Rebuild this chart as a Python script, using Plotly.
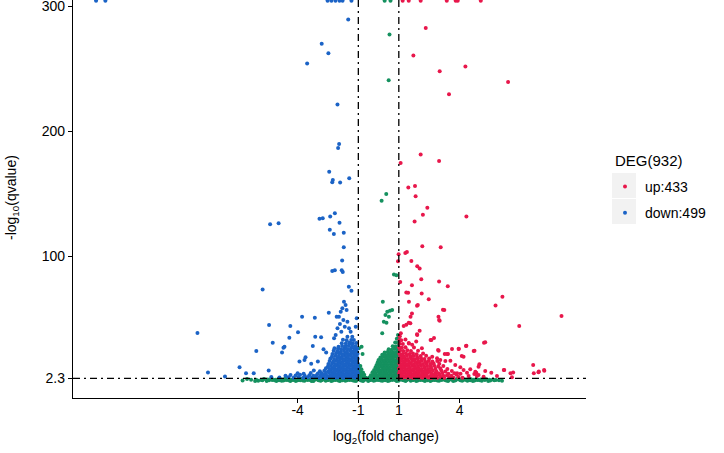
import plotly.graph_objects as go

# ---------------- data ----------------
fc_cut = 1.0          # |log2 FC| threshold
q_cut = 2.3           # -log10(q) threshold
x_ticks = [-4, -1, 1, 4]
y_ticks = [2.3, 100, 200, 300]
y_tick_text = ["2.3", "100", "200", "300"]
legend_up = "up:433"
legend_down = "down:499"
legend_title = "DEG(932)"

up_sparse = [
    (1.19, 304.5), (1.49, 304.5), (2.08, 304.5), (3.37, 304.5), (3.81, 304.5), (3.91, 304.5), (5.05, 304.5),
    (2.33, 282.7), (1.72, 260.7), (3.02, 248.0), (4.29, 251.9), (6.40, 239.4), (3.48, 229.6), (2.08, 181.5),
    (2.99, 176.2), (1.09, 174.7), (1.47, 155.0), (1.80, 156.3), (1.83, 148.0), (2.41, 138.8), (2.19, 133.2),
    (1.78, 127.9), (4.34, 131.9), (2.16, 108.0), (3.07, 107.2), (0.99, 101.6), (1.32, 102.6), (1.40, 103.4),
    (0.96, 96.0), (1.62, 96.3), (1.91, 92.0), (2.03, 90.2), (2.11, 81.7), (1.07, 79.5), (1.65, 76.9),
    (2.99, 79.8), (3.42, 76.1), (2.13, 70.3), (1.37, 71.1), (1.46, 70.9), (2.48, 65.7), (1.50, 63.6), (1.90, 60.4),
    (1.94, 61.0), (6.12, 67.6), (5.78, 60.7), (3.18, 57.2), (3.25, 57.0), (1.65, 54.3), (1.58, 51.6), (2.96, 51.6),
    (2.99, 49.0), (3.02, 48.5), (9.04, 52.2), (1.57, 46.4), (1.37, 45.3), (1.24, 44.2), (1.49, 46.9), (6.95, 44.2),
    (2.03, 40.5), (1.90, 37.6), (1.91, 37.0), (1.10, 38.4), (1.33, 33.5), (2.74, 34.7), (2.57, 33.1), (2.61, 33.1),
    (1.86, 31.9), (1.49, 30.6), (1.66, 29.2), (5.21, 30.9), (5.27, 31.2), (4.34, 28.5), (4.32, 28.3), (3.96, 26.1),
    (4.70, 24.3), (4.74, 24.5), (2.94, 25.1), (2.97, 24.5), (2.14, 26.5), (3.63, 25.8), (3.96, 25.8), (4.11, 20.3),
    (4.20, 19.7), (3.27, 21.9), (3.43, 21.9), (3.38, 21.8), (2.65, 19.7), (2.89, 18.4), (3.05, 17.0), (3.30, 16.2),
    (3.55, 16.5), (3.79, 13.0), (4.04, 11.2), (4.20, 9.0), (3.88, 6.4), (4.37, 6.9), (4.53, 9.6), (4.78, 7.7),
    (4.94, 11.7), (4.98, 13.6), (5.19, 3.7), (4.86, 4.2), (4.45, 4.2), (7.64, 13.1), (8.18, 9.1), (7.92, 7.8),
    (7.67, 6.5), (7.90, 7.2), (8.19, 8.5), (6.19, 9.1), (6.21, 9.0), (6.52, 6.5), (6.65, 7.0), (5.57, 6.9),
    (5.27, 8.2), (4.83, 6.9), (4.73, 5.8), (4.94, 5.0), (5.85, 4.2), (6.59, 3.2),
]

up_core = [
    (1.03, 3.1), (1.18, 2.8), (1.31, 3.4), (1.45, 2.9), (1.6, 3.3), (1.72, 2.7), (1.88, 3.5), (2.01, 3.0),
    (2.17, 2.8), (2.3, 3.4), (2.46, 3.1), (2.6, 2.7), (2.77, 3.3), (2.9, 2.9), (3.08, 3.5), (3.25, 2.8),
    (3.5, 3.2), (3.7, 2.9), (3.95, 3.4), (4.15, 2.8),
    (1.07, 4.7), (1.22, 4.3), (1.38, 5.0), (1.52, 4.5), (1.66, 4.9), (1.8, 4.2), (1.95, 4.8), (2.1, 4.4),
    (2.24, 5.1), (2.38, 4.6), (2.55, 4.3), (2.7, 4.9), (2.85, 4.5), (3.02, 5.0), (3.2, 4.4), (3.38, 4.8),
    (3.6, 4.5), (3.85, 5.2),
    (1.02, 6.4), (1.15, 6.0), (1.29, 6.6), (1.43, 6.1), (1.58, 6.5), (1.73, 5.9), (1.86, 6.3), (2.0, 6.7),
    (2.15, 6.0), (2.31, 6.4), (2.44, 6.8), (2.62, 6.1), (2.8, 6.5), (2.98, 6.2), (3.15, 6.6), (3.45, 6.0),
    (3.75, 6.4), (4.05, 6.1),
    (1.05, 8.1), (1.2, 7.8), (1.34, 8.4), (1.49, 7.9), (1.63, 8.3), (1.77, 7.7), (1.93, 8.2), (2.07, 8.5),
    (2.22, 7.9), (2.36, 8.3), (2.52, 7.8), (2.68, 8.4), (2.86, 8.0), (3.1, 8.6), (3.3, 7.9), (3.62, 8.2),
    (1.01, 10.2), (1.13, 9.8), (1.27, 10.4), (1.41, 9.9), (1.55, 10.3), (1.7, 9.7), (1.84, 10.1), (1.98, 10.5),
    (2.13, 9.9), (2.29, 10.2), (2.45, 9.8), (2.6, 10.4), (2.81, 10.0), (3.05, 10.3), (3.4, 9.9),
    (1.08, 12.1), (1.23, 11.8), (1.36, 12.4), (1.5, 11.9), (1.65, 12.3), (1.79, 11.7), (1.94, 12.2), (2.09, 12.5),
    (2.25, 11.9), (2.4, 12.3), (2.58, 11.8), (2.75, 12.4), (2.95, 12.0), (3.2, 12.2),
    (1.03, 14.1), (1.17, 13.8), (1.31, 14.4), (1.46, 13.9), (1.6, 14.3), (1.75, 13.7), (1.9, 14.2), (2.04, 14.5),
    (2.2, 13.9), (2.37, 14.3), (2.55, 13.8), (2.72, 14.2), (3.0, 14.0),
    (1.06, 16.1), (1.21, 15.8), (1.35, 16.4), (1.5, 15.9), (1.66, 16.3), (1.81, 15.7), (1.96, 16.2), (2.12, 16.5),
    (2.3, 15.9), (2.48, 16.3), (2.66, 15.8), (2.9, 16.2),
    (1.02, 18.1), (1.16, 17.8), (1.3, 18.4), (1.45, 17.9), (1.61, 18.3), (1.77, 17.7), (1.93, 18.2), (2.1, 18.5),
    (2.27, 17.9), (2.5, 18.2),
    (1.08, 20.1), (1.24, 19.8), (1.4, 20.4), (1.57, 19.9), (1.72, 20.3), (1.9, 19.7), (2.08, 20.2), (2.35, 20.5),
    (1.03, 22.1), (1.19, 21.8), (1.35, 22.4), (1.53, 21.9), (1.7, 22.3), (1.88, 21.7), (2.2, 22.2),
    (1.06, 24.6), (1.22, 24.2), (1.42, 24.8), (1.6, 24.3), (1.95, 24.5),
    (1.02, 27.1), (1.15, 26.8), (1.33, 27.3), (1.75, 27.0),
    (1.04, 30.1), (1.2, 29.8), (1.5, 30.3), (1.03, 33.0), (1.12, 32.8), (1.05, 36.0),
]

down_sparse = [
    (-13.96, 304.5), (-13.5, 304.5), (-2.52, 304.5), (-2.33, 304.5), (-2.13, 304.5), (-1.93, 304.5),
    (-1.78, 304.5), (-1.34, 304.5),
    (-1.50, 289.4), (-2.81, 270.0), (-2.48, 262.5), (-3.53, 254.3), (-2.03, 221.4), (-1.95, 189.8),
    (-2.0, 186.6), (-2.44, 167.7), (-2.26, 161.0), (-2.29, 159.2), (-1.90, 159.0), (-1.45, 162.4),
    (-5.36, 125.7), (-4.94, 126.5), (-2.92, 130.0), (-2.76, 130.5), (-2.39, 131.9), (-2.16, 134.5),
    (-1.93, 126.8), (-2.41, 121.3), (-2.21, 117.8), (-1.72, 118.9), (-1.72, 107.2), (-1.80, 96.6),
    (-2.29, 88.3), (-2.16, 88.8), (-1.82, 88.8), (-1.77, 87.5), (-5.73, 73.5), (-1.47, 75.6), (-1.34, 72.4),
    (-8.95, 38.6), (-5.41, 45.0), (-4.36, 44.2), (-3.78, 51.6), (-3.15, 50.8), (-2.46, 54.8), (-3.98, 39.2),
    (-4.41, 34.9), (-5.23, 30.9), (-4.70, 26.9), (-4.77, 23.0), (-6.04, 24.3), (-6.87, 11.3), (-8.43, 7.0),
    (-7.59, 3.8), (-6.55, 6.5), (-6.17, 6.5), (-5.43, 8.6), (-4.65, 27.7), (-3.25, 28.3), (-3.13, 35.7),
    (-2.84, 35.2), (-2.72, 25.7), (-2.59, 23.0), (-3.61, 19.3), (-3.91, 15.8), (-3.66, 17.1), (-3.33, 14.0),
    (-3.0, 15.8),
    (-1.71, 63.7), (-1.63, 61.0), (-1.79, 58.4), (-1.58, 57.0), (-1.87, 55.7), (-1.96, 51.7), (-2.07, 51.7),
    (-1.74, 49.0), (-1.54, 47.7), (-1.91, 45.8), (-1.67, 43.7), (-1.46, 42.4), (-2.03, 42.4), (-1.84, 39.7),
    (-1.38, 39.7), (-2.12, 37.0), (-1.54, 35.7), (-1.22, 33.0), (-2.2, 34.4), (-1.08, 50.4), (-1.13, 43.7),
    (-1.38, 30.4), (-1.3, 35.7),
]

down_core = [
    (-1.03, 3.1), (-1.17, 2.8), (-1.31, 3.4), (-1.45, 2.9), (-1.6, 3.3), (-1.74, 2.7), (-1.88, 3.5), (-2.02, 3.0),
    (-2.17, 2.8), (-2.31, 3.4), (-2.46, 3.1), (-2.6, 2.7), (-2.78, 3.3), (-2.95, 2.9), (-3.12, 3.5), (-3.3, 2.8),
    (-3.5, 3.2), (-3.72, 2.9), (-3.95, 3.4), (-4.2, 2.8), (-4.45, 3.3), (-4.9, 3.0), (-5.3, 3.5),
    (-1.08, 4.7), (-1.22, 4.3), (-1.36, 5.0), (-1.5, 4.5), (-1.65, 4.9), (-1.79, 4.2), (-1.94, 4.8), (-2.08, 4.4),
    (-2.23, 5.1), (-2.38, 4.6), (-2.53, 4.3), (-2.7, 4.9), (-2.87, 4.5), (-3.05, 5.0), (-3.22, 4.4), (-3.42, 4.8),
    (-3.65, 4.5), (-3.88, 5.2), (-4.1, 4.6), (-4.35, 5.0), (-4.6, 4.4),
    (-1.02, 6.4), (-1.15, 6.0), (-1.29, 6.6), (-1.43, 6.1), (-1.57, 6.5), (-1.71, 5.9), (-1.85, 6.3), (-2.0, 6.7),
    (-2.14, 6.0), (-2.29, 6.4), (-2.45, 6.8), (-2.62, 6.1), (-2.8, 6.5), (-3.0, 6.2), (-3.35, 6.6), (-3.7, 6.0),
    (-4.0, 6.4),
    (-1.06, 8.1), (-1.2, 7.8), (-1.34, 8.4), (-1.48, 7.9), (-1.62, 8.3), (-1.77, 7.7), (-1.91, 8.2), (-2.05, 8.5),
    (-2.2, 7.9), (-2.35, 8.3), (-2.5, 7.8), (-2.68, 8.4), (-2.9, 8.0), (-3.2, 8.6),
    (-1.01, 10.2), (-1.13, 9.8), (-1.27, 10.4), (-1.41, 9.9), (-1.55, 10.3), (-1.69, 9.7), (-1.83, 10.1),
    (-1.97, 10.5), (-2.12, 9.9), (-2.27, 10.2), (-2.42, 9.8), (-2.6, 10.4),
    (-1.05, 12.1), (-1.19, 11.8), (-1.33, 12.4), (-1.47, 11.9), (-1.61, 12.3), (-1.75, 11.7), (-1.9, 12.2),
    (-2.04, 12.5), (-2.19, 11.9), (-2.35, 12.3), (-2.5, 11.8),
    (-1.02, 14.1), (-1.15, 13.8), (-1.29, 14.4), (-1.43, 13.9), (-1.57, 14.3), (-1.71, 13.7), (-1.86, 14.2),
    (-2.0, 14.5), (-2.15, 13.9), (-2.3, 14.3), (-2.48, 13.8),
    (-1.07, 16.1), (-1.21, 15.8), (-1.35, 16.4), (-1.5, 15.9), (-1.64, 16.3), (-1.78, 15.7), (-1.93, 16.2),
    (-2.08, 16.5), (-2.24, 15.9), (-2.42, 16.3),
    (-1.03, 18.1), (-1.17, 17.8), (-1.31, 18.4), (-1.45, 17.9), (-1.59, 18.3), (-1.73, 17.7), (-1.88, 18.2),
    (-2.03, 18.5), (-2.2, 17.9), (-2.38, 18.2),
    (-1.08, 20.1), (-1.22, 19.8), (-1.37, 20.4), (-1.52, 19.9), (-1.66, 20.3), (-1.81, 19.7), (-1.96, 20.2),
    (-2.12, 20.5), (-2.3, 19.9),
    (-1.04, 22.1), (-1.18, 21.8), (-1.33, 22.4), (-1.48, 21.9), (-1.63, 22.3), (-1.78, 21.7), (-1.94, 22.2),
    (-2.1, 22.5), (-2.28, 21.9),
    (-1.1, 24.1), (-1.25, 23.8), (-1.4, 24.4), (-1.56, 23.9), (-1.71, 24.3), (-1.87, 23.7), (-2.04, 24.2),
    (-2.22, 24.5),
    (-1.05, 26.1), (-1.2, 25.8), (-1.36, 26.4), (-1.52, 25.9), (-1.68, 26.3), (-1.85, 25.7), (-2.0, 26.2),
    (-2.18, 26.5),
    (-1.14, 28.1), (-1.3, 27.8), (-1.47, 28.4), (-1.63, 27.9), (-1.8, 28.3), (-1.98, 27.7),
    (-1.1, 30.6), (-1.27, 30.3), (-1.45, 30.8), (-1.62, 30.2), (-1.82, 30.5),
    (-1.35, 33.1), (-1.58, 32.8), (-1.76, 33.3),
]

ns_sparse = [
    (0.30, 304.5), (0.59, 304.5), (0.54, 277.4), (0.50, 240.8), (0.38, 149.8), (0.15, 144.5), (0.76, 85.4),
    (0.88, 84.9), (0.21, 63.6), (0.43, 55.7), (0.56, 56.5), (0.67, 57.0), (0.34, 53.0), (0.51, 51.7),
    (0.26, 47.7), (0.39, 46.9), (0.18, 38.4), (-0.84, 27.7), (-0.79, 21.9), (-0.97, 26.5),
]

ns_hump = [
    (-0.45, 3.0), (-0.32, 3.4), (-0.18, 2.9), (-0.04, 3.3), (0.1, 2.8), (0.24, 3.5), (0.38, 3.0), (0.52, 3.3),
    (0.66, 2.9), (0.8, 3.4), (0.94, 3.1),
    (-0.38, 4.8), (-0.24, 5.3), (-0.1, 4.9), (0.04, 5.4), (0.18, 5.0), (0.32, 5.2), (0.46, 4.8), (0.6, 5.4),
    (0.74, 5.0), (0.88, 5.3), (0.98, 4.9),
    (-0.3, 7.2), (-0.16, 6.9), (-0.02, 7.4), (0.12, 7.0), (0.26, 7.3), (0.4, 6.8), (0.54, 7.2), (0.68, 7.5),
    (0.82, 7.0), (0.96, 7.3),
    (-0.22, 9.1), (-0.08, 9.4), (0.06, 8.9), (0.2, 9.3), (0.34, 9.0), (0.48, 9.5), (0.62, 8.9), (0.76, 9.2),
    (0.9, 9.4),
    (-0.15, 11.2), (0.0, 10.9), (0.14, 11.4), (0.28, 11.0), (0.42, 11.3), (0.56, 10.8), (0.7, 11.2), (0.84, 11.5),
    (0.97, 11.0),
    (-0.1, 13.1), (0.05, 13.4), (0.19, 12.9), (0.33, 13.3), (0.47, 13.0), (0.61, 13.5), (0.75, 12.9), (0.89, 13.2),
    (-0.04, 15.2), (0.1, 14.9), (0.24, 15.3), (0.38, 15.0), (0.52, 15.4), (0.66, 14.8), (0.8, 15.2), (0.94, 15.5),
    (0.0, 17.0), (0.15, 17.3), (0.29, 16.9), (0.43, 17.4), (0.57, 17.0), (0.71, 17.3), (0.85, 16.8), (0.98, 17.2),
    (0.09, 19.1), (0.22, 19.4), (0.36, 18.9), (0.5, 19.3), (0.64, 19.0), (0.78, 19.5), (0.92, 19.1),
    (0.18, 21.2), (0.32, 20.9), (0.46, 21.3), (0.6, 21.0), (0.74, 21.4), (0.88, 20.8), (0.99, 21.2),
    (0.3, 23.1), (0.44, 23.4), (0.58, 22.9), (0.72, 23.3), (0.86, 23.0), (0.96, 23.5),
    (0.5, 25.6), (0.65, 25.3), (0.8, 25.8), (0.93, 25.4),
    (0.7, 28.1), (0.84, 27.8), (0.97, 28.3),
    (0.82, 31.1), (0.95, 30.8), (0.9, 34.0), (0.98, 34.3), (0.96, 37.0),
    (-0.98, 3.1), (-0.86, 2.9), (-0.74, 3.3), (-0.62, 2.8),
    (-0.95, 5.1), (-0.83, 4.8), (-0.71, 5.2),
    (-0.99, 7.6), (-0.88, 7.3), (-0.77, 7.0),
    (-0.96, 10.1), (-0.85, 9.6),
    (-0.98, 12.6), (-0.9, 12.2),
]

ns_base = [
    (-6.72, 0.6), (-6.3, 1.3), (-5.95, 0.4), (-5.66, 1.8), (-5.41, 0.8), (-5.22, 1.5), (-5.05, 0.3), (-4.88, 1.9),
    (-4.7, 0.7), (-4.53, 1.4), (-4.36, 0.2), (-4.18, 1.7), (-4.0, 0.9), (-3.83, 2.0), (-3.66, 0.5), (-3.48, 1.5),
    (-3.31, 0.3), (-3.13, 1.9), (-2.96, 0.8), (-2.78, 1.3), (-2.61, 0.4), (-2.43, 1.8), (-2.26, 0.7), (-2.08, 1.6),
    (-1.91, 0.2), (-1.73, 1.9), (-1.56, 0.9), (-1.38, 1.4), (-1.21, 0.5), (-1.03, 2.0), (-0.86, 0.6), (-0.68, 1.5),
    (-0.51, 0.3), (-0.33, 1.8), (-0.16, 0.8), (0.02, 1.3), (0.19, 0.4), (0.37, 1.9), (0.54, 0.7), (0.72, 1.6),
    (0.89, 0.2), (1.07, 1.8), (1.24, 0.9), (1.42, 1.4), (1.59, 0.5), (1.77, 2.0), (1.94, 0.6), (2.12, 1.5),
    (2.29, 0.3), (2.47, 1.9), (2.64, 0.8), (2.82, 1.3), (2.99, 0.4), (3.17, 1.8), (3.34, 0.7), (3.52, 1.6),
    (3.69, 0.2), (3.87, 1.9), (4.04, 0.9), (4.22, 1.4), (4.39, 0.5), (4.57, 1.7), (4.74, 0.6), (4.92, 1.2),
    (5.1, 0.4), (5.3, 1.6), (5.52, 0.7), (5.8, 1.1), (6.1, 0.5),
    (-6.5, 1.9), (-6.1, 0.2), (-5.8, 1.1), (-5.53, 0.3), (-5.31, 2.1), (-5.13, 0.9), (-4.96, 1.6), (-4.79, 0.4),
    (-4.61, 2.2), (-4.44, 0.8), (-4.27, 1.2), (-4.09, 0.3), (-3.92, 1.5), (-3.74, 0.6), (-3.57, 2.1), (-3.39, 1.0),
    (-3.22, 0.2), (-3.04, 1.6), (-2.87, 0.5), (-2.69, 2.2), (-2.52, 1.1), (-2.34, 0.3), (-2.17, 1.4), (-1.99, 0.6),
    (-1.82, 2.2), (-1.64, 0.4), (-1.47, 1.7), (-1.29, 0.9), (-1.12, 0.2), (-0.94, 1.5), (-0.77, 0.3), (-0.59, 2.1),
    (-0.42, 1.0), (-0.24, 0.5), (-0.07, 2.2), (0.11, 0.7), (0.28, 1.6), (0.46, 0.2), (0.63, 2.1), (0.81, 1.1),
    (0.98, 0.4), (1.16, 1.3), (1.33, 0.2), (1.51, 2.1), (1.68, 1.0), (1.86, 0.3), (2.03, 1.7), (2.21, 0.9),
    (2.38, 2.2), (2.56, 0.3), (2.73, 1.5), (2.91, 0.6), (3.08, 2.1), (3.26, 1.2), (3.43, 0.3), (3.61, 1.7),
    (3.78, 0.6), (3.96, 2.2), (4.13, 0.4), (4.31, 1.3), (4.48, 2.0), (4.66, 0.3), (4.83, 1.8), (5.01, 0.9),
    (5.2, 2.0), (5.42, 0.3), (5.65, 1.5), (5.95, 0.9),
    (-6.05, 1.2), (-5.74, 0.9), (-5.47, 1.4), (-5.26, 1.0), (-5.09, 1.3), (-4.92, 0.9), (-4.74, 1.2), (-4.57, 1.0),
    (-4.4, 1.4), (-4.22, 1.1), (-4.05, 1.3), (-3.87, 0.9), (-3.7, 1.2), (-3.52, 1.0), (-3.35, 1.4), (-3.18, 1.1),
    (-3.0, 1.3), (-2.83, 0.9), (-2.65, 1.2), (-2.48, 1.0), (-2.3, 1.4), (-2.13, 1.1), (-1.95, 1.3), (-1.78, 0.9),
    (-1.6, 1.2), (-1.43, 1.0), (-1.25, 1.4), (-1.08, 1.1), (-0.9, 1.3), (-0.73, 0.9), (-0.55, 1.2), (-0.38, 1.0),
    (-0.2, 1.4), (-0.03, 1.1), (0.15, 1.3), (0.32, 0.9), (0.5, 1.2), (0.67, 1.0), (0.85, 1.4), (1.02, 1.1),
    (1.2, 1.3), (1.37, 0.9), (1.55, 1.2), (1.72, 1.0), (1.9, 1.4), (2.07, 1.1), (2.25, 1.3), (2.42, 0.9),
    (2.6, 1.2), (2.77, 1.0), (2.95, 1.4), (3.12, 1.1), (3.3, 1.3), (3.47, 0.9), (3.65, 1.2), (3.82, 1.0),
    (4.0, 1.4), (4.17, 1.1), (4.35, 1.3), (4.52, 0.9), (4.7, 1.2), (4.87, 1.0), (5.05, 1.4), (5.25, 1.1),
    (5.47, 1.3), (5.72, 0.9),
]

# ---------------- styling ----------------
RED = "#E8174B"
BLUE = "#1B63C6"
GREEN = "#15915F"
FONT = "Liberation Sans, Arial, Helvetica, sans-serif"
MS = 4


def xs(pts):
    return [p[0] for p in pts]


def ys(pts):
    return [p[1] for p in pts]


ns = ns_base + ns_hump + ns_sparse
up = up_core + up_sparse
down = down_core + down_sparse

fig = go.Figure()
fig.add_trace(go.Scatter(x=xs(ns), y=ys(ns), mode="markers", showlegend=False,
                         marker=dict(color=GREEN, size=MS, line=dict(width=0)), hoverinfo="skip"))
fig.add_trace(go.Scatter(x=xs(up), y=ys(up), mode="markers", name=legend_up, legendgroup="up",
                         marker=dict(color=RED, size=MS, line=dict(width=0))))
fig.add_trace(go.Scatter(x=xs(down), y=ys(down), mode="markers", name=legend_down, legendgroup="down",
                         marker=dict(color=BLUE, size=MS, line=dict(width=0))))

# plot area geometry in pixels
L, R, T, B = 73, 138, 0, 55
W, H = 724, 453
pw, ph = W - L - R, H - T - B


def px2paper_x(px):
    return (px - L) / pw


def px2paper_y(py):
    return 1 - (py - T) / ph


dash = "7px,4px,2px,4px"
shapes = [
    dict(type="line", xref="x", yref="paper", x0=-fc_cut, x1=-fc_cut, y0=0, y1=1,
         line=dict(color="black", width=1.3, dash=dash), layer="above"),
    dict(type="line", xref="x", yref="paper", x0=fc_cut, x1=fc_cut, y0=0, y1=1,
         line=dict(color="black", width=1.3, dash=dash), layer="above"),
    dict(type="line", xref="paper", yref="y", x0=0, x1=1, y0=q_cut, y1=q_cut,
         line=dict(color="black", width=1.3, dash=dash), layer="above"),
    # legend key backgrounds
    dict(type="rect", xref="paper", yref="paper", x0=px2paper_x(612), x1=px2paper_x(636),
         y0=px2paper_y(198), y1=px2paper_y(173), fillcolor="#F2F2F2", line=dict(width=0), layer="below"),
    dict(type="rect", xref="paper", yref="paper", x0=px2paper_x(612), x1=px2paper_x(636),
         y0=px2paper_y(224), y1=px2paper_y(199), fillcolor="#F2F2F2", line=dict(width=0), layer="below"),
]

annotations = [
    dict(text="log<sub>2</sub>(fold change)", xref="paper", yref="paper",
         x=px2paper_x(386), y=px2paper_y(437), showarrow=False, xanchor="center", yanchor="middle",
         font=dict(size=14, color="black", family=FONT)),
    dict(text="-log<sub>10</sub>(qvalue)", xref="paper", yref="paper", textangle=-90,
         x=px2paper_x(12), y=px2paper_y(198), showarrow=False, xanchor="center", yanchor="middle",
         font=dict(size=14, color="black", family=FONT)),
    dict(text=legend_title, xref="paper", yref="paper",
         x=px2paper_x(613), y=px2paper_y(160), showarrow=False, xanchor="left", yanchor="middle",
         font=dict(size=15, color="black", family=FONT)),
]

fig.update_layout(
    width=W, height=H,
    margin=dict(l=L, r=R, t=T, b=B, pad=0, autoexpand=False),
    paper_bgcolor="white", plot_bgcolor="white",
    font=dict(family=FONT, size=14, color="black"),
    shapes=shapes, annotations=annotations,
    showlegend=True,
    legend=dict(xref="container", yref="container", x=605 / W, y=1 - 171 / H,
                xanchor="left", yanchor="top",
                font=dict(size=14, color="black", family=FONT), bgcolor="rgba(0,0,0,0)",
                tracegroupgap=5, itemsizing="trace"),
    xaxis=dict(range=[-15.1, 10.25], tickvals=x_ticks, ticktext=[str(v) for v in x_ticks],
               showline=True, linecolor="black", linewidth=1.3, ticks="outside", ticklen=4,
               tickwidth=1.3, tickcolor="black", showgrid=False, zeroline=False, automargin=False,
               ticklabeloverflow="allow", ticklabelstandoff=-5,
               tickfont=dict(size=14, color="black", family=FONT)),
    yaxis=dict(range=[-13.4, 305], tickvals=y_ticks, ticktext=y_tick_text,
               showline=True, linecolor="black", linewidth=1.3, ticks="outside", ticklen=4,
               tickwidth=1.3, tickcolor="black", showgrid=False, zeroline=False, automargin=False,
               ticklabeloverflow="allow",
               tickfont=dict(size=14, color="black", family=FONT)),
)

fig.write_html("out.html", config={"displayModeBar": False},
               post_script="document.body.style.margin='0';document.body.style.overflow='hidden';")
